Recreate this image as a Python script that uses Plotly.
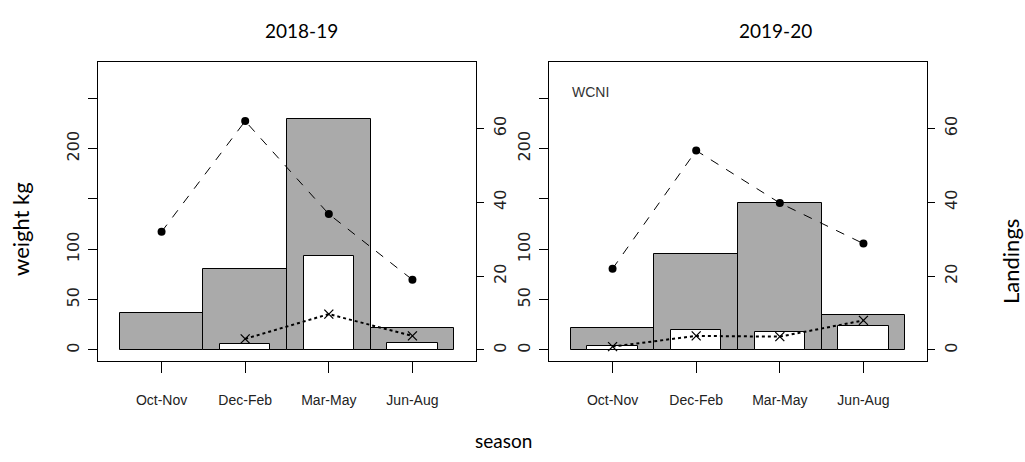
import plotly.graph_objects as go

# Seasons along the x axis
seasons = ["Oct-Nov", "Dec-Feb", "Mar-May", "Jun-Aug"]
positions = [0, 1, 2, 3]

# 2018-19: weight (kg) bars and landings lines
w_total_1819 = [37, 80, 229, 22]
w_part_1819 = [0, 6, 93, 7]
land_total_1819 = [32, 62, 36.8, 19]
land_part_1819 = [None, 3, 9.7, 3.8]

# 2019-20
w_total_1920 = [22, 95, 146, 35]
w_part_1920 = [4.3, 20, 17.5, 24]
land_total_1920 = [22, 54, 39.8, 28.8]
land_part_1920 = [0.9, 3.8, 3.6, 8]

left_ticks = [0, 50, 100, 150, 200, 250]
left_labels = ["0", "50", "100", "", "200", ""]
right_ticks = [0, 20, 40, 60]
right_labels = ["0", "20", "40", "60"]

X_FONT = dict(family="Liberation Sans, Arial", size=14, color="#222")
Y_FONT = dict(family="DejaVu Sans", size=16, color="#222")
GRAY = "#aaaaaa"

fig = go.Figure()


def add_panel(xa, ya, ya2, w_total, w_part, l_total, l_part):
    fig.add_trace(go.Bar(x=positions, y=w_total, width=1.0, xaxis=xa, yaxis=ya,
                         marker=dict(color=GRAY, line=dict(color="black", width=1)),
                         showlegend=False))
    fig.add_trace(go.Bar(x=positions, y=w_part, width=0.6, xaxis=xa, yaxis=ya,
                         marker=dict(color="white", line=dict(color="black", width=1)),
                         showlegend=False))
    fig.add_trace(go.Scatter(x=positions, y=l_total, xaxis=xa, yaxis=ya2,
                             mode="lines+markers",
                             line=dict(color="black", width=1, dash="dash"),
                             marker=dict(symbol="circle", size=8, color="black"),
                             showlegend=False))
    fig.add_trace(go.Scatter(x=positions, y=l_part, xaxis=xa, yaxis=ya2,
                             mode="lines+markers", connectgaps=False,
                             line=dict(color="black", width=2, dash="dot"),
                             marker=dict(symbol="x-thin-open", size=9,
                                         line=dict(color="black", width=1.3)),
                             showlegend=False))


add_panel("x", "y", "y2", w_total_1819, w_part_1819, land_total_1819, land_part_1819)
add_panel("x2", "y3", "y4", w_total_1920, w_part_1920, land_total_1920, land_part_1920)

y_dom = [101 / 462, 400 / 462]
x_range = [-0.76, 3.76]

xcommon = dict(range=x_range, tickvals=positions, ticktext=seasons,
               showline=True, mirror=True, linecolor="black", linewidth=1,
               ticks="outside", ticklen=11, tickcolor="black",
               tickfont=X_FONT, ticklabelstandoff=15,
               showgrid=False, zeroline=False, fixedrange=True)
ycommon = dict(range=[-11, 286], tickvals=left_ticks, ticktext=left_labels,
               showline=True, mirror=True, linecolor="black", linewidth=1,
               ticks="outside", ticklen=9, tickcolor="black", tickangle=-90,
               tickfont=Y_FONT, ticklabelstandoff=3,
               showgrid=False, zeroline=False, domain=y_dom)
y2common = dict(range=[-3, 78], tickvals=right_ticks, ticktext=right_labels,
                side="right", showline=False,
                ticks="outside", ticklen=7, tickcolor="black", tickangle=-90,
                tickfont=Y_FONT, ticklabelstandoff=3,
                showgrid=False, zeroline=False)

fig.update_layout(
    width=1025, height=462,
    margin=dict(l=0, r=0, t=0, b=0),
    paper_bgcolor="white", plot_bgcolor="white",
    barmode="overlay", bargap=0,
    xaxis=dict(domain=[98 / 1025, 476 / 1025], anchor="y", **xcommon),
    yaxis=dict(anchor="x", **ycommon),
    yaxis2=dict(overlaying="y", anchor="x", **y2common),
    xaxis2=dict(domain=[549 / 1025, 927 / 1025], anchor="y3", **xcommon),
    yaxis3=dict(anchor="x2", **ycommon),
    yaxis4=dict(overlaying="y3", anchor="x2", **y2common),
)

TITLE_FONT = dict(family="Lato, Carlito, Open Sans", size=19, color="black")
SIDE_FONT = dict(family="Lato, Carlito, Open Sans", size=22, color="black")
annotations = [
    dict(text="2018-19", x=301 / 1025, y=1 - 30 / 462, font=TITLE_FONT),
    dict(text="2019-20", x=775 / 1025, y=1 - 30 / 462, font=TITLE_FONT),
    dict(text="season", x=503 / 1025, y=1 - 440 / 462, font=TITLE_FONT),
    dict(text="weight kg", x=20 / 1025, y=1 - 229 / 462, textangle=-90, font=SIDE_FONT),
    dict(text="Landings", x=1010 / 1025, y=1 - 262 / 462, textangle=-90, font=SIDE_FONT),
    dict(text="WCNI", x=590 / 1025, y=1 - 92 / 462,
         font=dict(family="Liberation Sans, Arial", size=14, color="#333")),
]
for a in annotations:
    fig.add_annotation(xref="paper", yref="paper", showarrow=False,
                       xanchor="center", yanchor="middle", **a)

fig.write_html("out.html")
